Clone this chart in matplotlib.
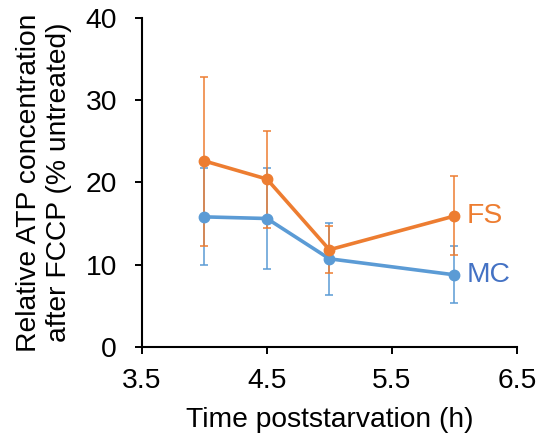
import matplotlib
matplotlib.use("Agg")
import matplotlib.pyplot as plt

plt.rcParams["font.family"] = ["Liberation Sans", "DejaVu Sans"]

hours = [4, 4.5, 5, 6]
fs_mean = [22.6, 20.4, 11.8, 15.9]
fs_err_lo = [10.3, 5.9, 2.85, 4.7]
fs_err_hi = [10.2, 5.9, 2.9, 4.9]
mc_mean = [15.8, 15.6, 10.7, 8.75]
mc_err_lo = [5.9, 6.2, 4.4, 3.45]
mc_err_hi = [6.0, 6.1, 4.3, 3.45]

ORANGE = "#ED7D31"
BLUE = "#5B9BD5"
BLUE_TEXT = "#4472C4"
FS = 20.3

fig = plt.figure(figsize=(5.4, 4.38), dpi=100)
ax = fig.add_axes([0.263, 0.2084, 0.694, 0.7505])

for mean, lo, hi, color in ((mc_mean, mc_err_lo, mc_err_hi, BLUE),
                            (fs_mean, fs_err_lo, fs_err_hi, ORANGE)):
    ax.errorbar(hours, mean, yerr=[lo, hi], color=color, lw=2.6,
                marker="o", ms=7.5, elinewidth=1.1, capsize=2.6, capthick=1.1)

ax.text(6.1, fs_mean[-1], "FS", color=ORANGE, fontsize=FS, va="center")
ax.text(6.1, mc_mean[-1], "MC", color=BLUE_TEXT, fontsize=FS, va="center")

ax.set_xlim(3.5, 6.5)
ax.set_ylim(0, 40)
ax.set_xticks([3.5, 4.5, 5.5, 6.5])
ax.set_yticks([0, 10, 20, 30, 40])
ax.tick_params(labelsize=FS, width=1.4, length=5, direction="out")
ax.tick_params(axis="x", pad=10.5)
ax.tick_params(axis="y", pad=13)
ax.set_xlabel("Time poststarvation (h)", fontsize=FS, labelpad=9)
ax.set_ylabel("Relative ATP concentration\nafter FCCP (% untreated)", fontsize=FS,
              linespacing=1.2, labelpad=10)
for s in ("top", "right"):
    ax.spines[s].set_visible(False)
for s in ("left", "bottom"):
    ax.spines[s].set_linewidth(1.5)

fig.savefig("out.png", dpi=100)
